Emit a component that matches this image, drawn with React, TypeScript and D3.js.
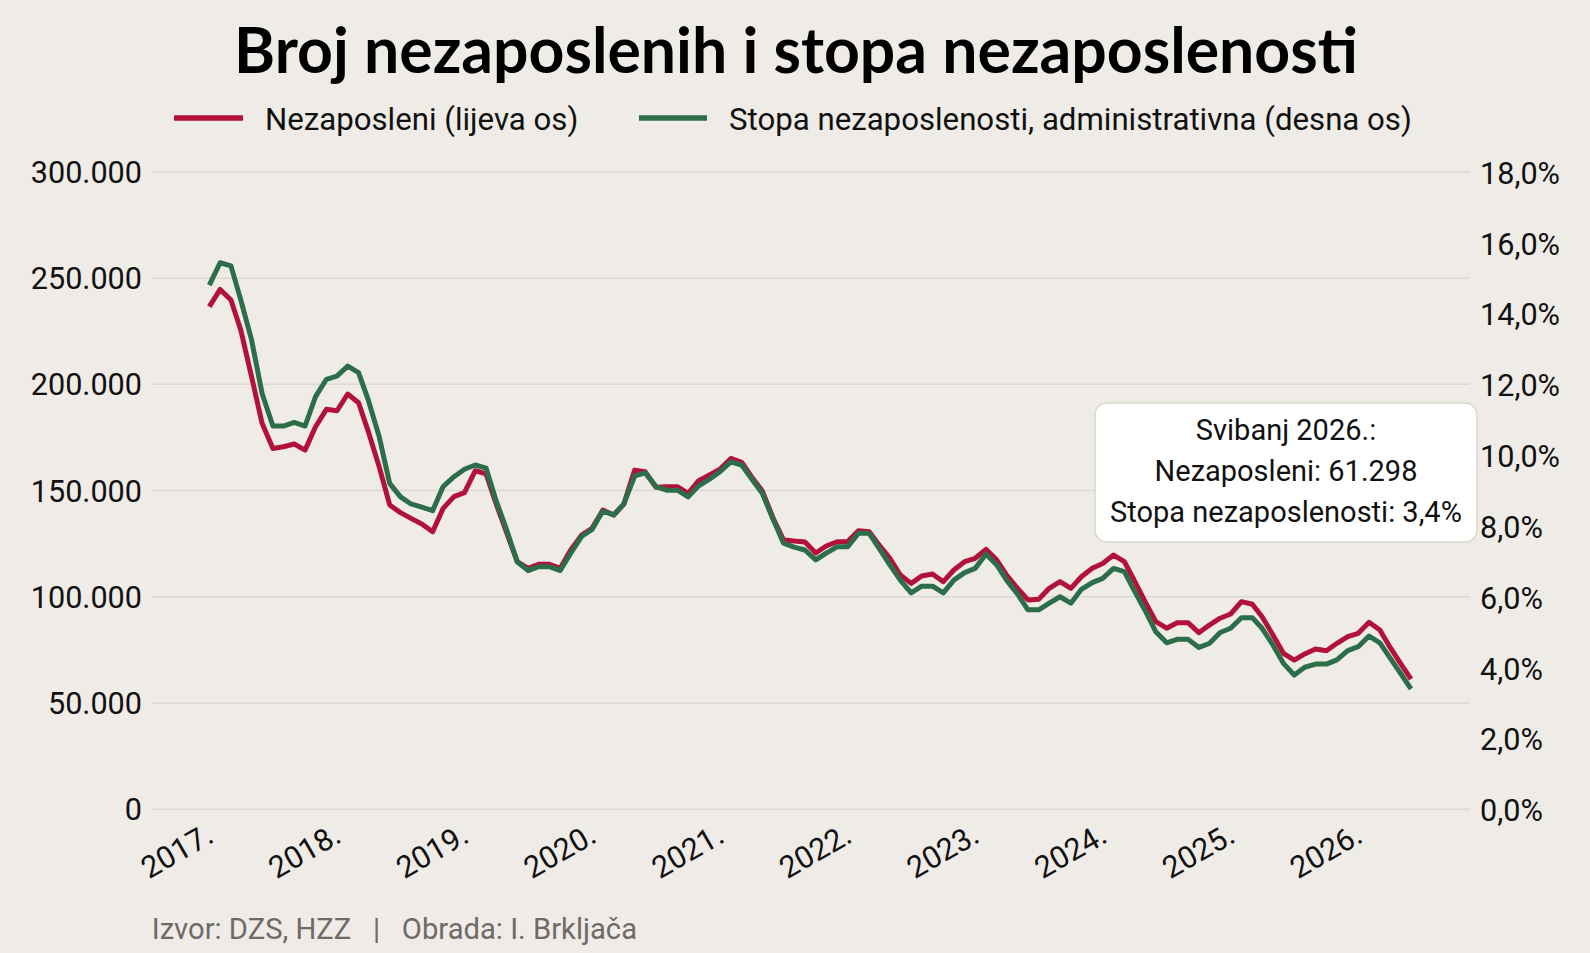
import React, { useEffect } from 'react';
import * as d3 from 'd3';

const W = 1590;
const H = 953;

// Monthly data, December 2016 .. May 2026
const unemployed = [
  236500, 244600, 239600, 225500, 203500, 181600, 169800, 170600, 171900, 169000, 180000, 188200,
  187500, 195400, 191300, 177700, 161200, 143200, 139600, 136900, 134200, 130600, 141600, 147100,
  149000, 159300, 157800, 144000, 130000, 116500, 113400, 115300, 115300, 113400, 122000, 129000,
  132200, 140800, 138500, 143600, 159600, 158800, 151500, 151800, 151800, 148700, 154600, 157300,
  160000, 165100, 163300, 156500, 149800, 137400, 126700, 126200, 125800, 120600, 123900, 125900,
  125900, 131100, 130600, 124400, 118100, 110200, 106300, 109800, 110700, 107100, 112600, 116500,
  118100, 122300, 117300, 110200, 104000, 98500, 98800, 104000, 107100, 104000, 109400, 113400,
  115700, 119600, 116500, 107500, 97500, 88300, 85200, 87800, 87800, 83100, 86700, 89900,
  91900, 97700, 96500, 90600, 82000, 73400, 70200, 73100, 75400, 74600, 78100, 81200,
  82800, 88000, 84400, 76500, 68700, 61298,
];

const rate = [
  14.8, 15.43, 15.34, 14.38, 13.25, 11.74, 10.82, 10.82, 10.92, 10.82, 11.65, 12.14,
  12.23, 12.51, 12.33, 11.55, 10.52, 9.2, 8.82, 8.62, 8.53, 8.43, 9.11, 9.39,
  9.6, 9.72, 9.63, 8.73, 7.88, 6.99, 6.74, 6.85, 6.85, 6.74, 7.23, 7.7,
  7.9, 8.42, 8.31, 8.62, 9.41, 9.5, 9.11, 9.01, 9.01, 8.82, 9.13, 9.32,
  9.53, 9.81, 9.72, 9.34, 8.92, 8.21, 7.51, 7.4, 7.32, 7.04, 7.23, 7.41,
  7.41, 7.79, 7.79, 7.37, 6.9, 6.47, 6.11, 6.3, 6.3, 6.11, 6.47, 6.68,
  6.8, 7.21, 6.9, 6.47, 6.08, 5.63, 5.63, 5.82, 6.0, 5.82, 6.21, 6.4,
  6.52, 6.8, 6.71, 6.16, 5.6, 5.01, 4.7, 4.8, 4.8, 4.57, 4.68, 4.99,
  5.11, 5.41, 5.41, 5.11, 4.64, 4.12, 3.79, 4.01, 4.1, 4.1, 4.22, 4.48,
  4.59, 4.89, 4.7, 4.29, 3.84, 3.4,
];

const startYear = 2016;
const startMonth = 11; // December (0-based)

const leftTicks = [0, 50000, 100000, 150000, 200000, 250000, 300000];
const rightTicks = [0, 2, 4, 6, 8, 10, 12, 14, 16, 18];
const yearTicks = [2017, 2018, 2019, 2020, 2021, 2022, 2023, 2024, 2025, 2026];
const monthNames = [
  'Siječanj', 'Veljača', 'Ožujak', 'Travanj', 'Svibanj', 'Lipanj',
  'Srpanj', 'Kolovoz', 'Rujan', 'Listopad', 'Studeni', 'Prosinac',
];
const seriesNames = ['Nezaposleni (lijeva os)', 'Stopa nezaposlenosti, administrativna (desna os)'];
const seriesColors = ['#B2123A', '#2C6E4A'];
const titleText = 'Broj nezaposlenih i stopa nezaposlenosti';
const sourceText = 'Izvor: DZS, HZZ   |   Obrada: I. Brkljača';

const BG = '#EFECE7';
const GRID = '#DCD8D3';
const FONT = 'Roboto, "Noto Sans", sans-serif';

const locale = d3.formatLocale({ decimal: ',', thousands: '.', grouping: [3], currency: ['', ''] });
const fmtInt = locale.format(',');
const fmtPct = locale.format(',.1f');

export default function App() {
  useEffect(() => {
    document.body.style.margin = '0';
    document.body.style.overflow = 'hidden';
    document.body.style.background = BG;
  }, []);

  const dates = unemployed.map((_, i) => new Date(Date.UTC(startYear, startMonth + i, 1)));

  const plotLeft = 152;
  const plotRight = 1470;
  const plotTop = 171.7;
  const plotBottom = 809.3;

  const x = d3
    .scaleUtc()
    .domain([dates[0], dates[dates.length - 1]])
    .range([209.3, 1411]);
  const yL = d3.scaleLinear().domain([0, 300000]).range([plotBottom, plotTop]);
  const yR = d3.scaleLinear().domain([0, 18]).range([plotBottom, plotTop]);

  const lineL = d3
    .line<number>()
    .x((_, i) => x(dates[i]))
    .y((d) => yL(d));
  const lineR = d3
    .line<number>()
    .x((_, i) => x(dates[i]))
    .y((d) => yR(d));

  const last = dates.length - 1;
  const lastDate = dates[last];
  const tipLines = [
    `${monthNames[lastDate.getUTCMonth()]} ${lastDate.getUTCFullYear()}.:`,
    `Nezaposleni: ${fmtInt(unemployed[last])}`,
    `Stopa nezaposlenosti: ${fmtPct(rate[last])}%`,
  ];

  const tip = { x: 1095, y: 403, w: 382, h: 139 };

  return (
    <div style={{ position: 'fixed', left: 0, top: 0, width: W, height: H }}>
      <svg width={W} height={H} style={{ display: 'block' }}>
        <rect x={0} y={0} width={W} height={H} fill={BG} />

        <text
          x={796}
          y={73}
          textAnchor="middle"
          fontFamily='Lato, "DejaVu Sans", sans-serif'
          fontWeight={700}
          fontSize={62.5}
          fill="#000"
        >
          {titleText}
        </text>

        {/* legend */}
        <g fontFamily={FONT} fontSize={31.2} fill="#111">
          <line x1={174} x2={243} y1={118} y2={118} stroke={seriesColors[0]} strokeWidth={5.5} />
          <text x={265} y={129.8}>{seriesNames[0]}</text>
          <line x1={639} x2={707} y1={118} y2={118} stroke={seriesColors[1]} strokeWidth={5.5} />
          <text x={729} y={129.8}>{seriesNames[1]}</text>
        </g>

        {/* gridlines */}
        {leftTicks.map((t) => (
          <line
            key={'g' + t}
            x1={plotLeft}
            x2={plotRight}
            y1={yL(t)}
            y2={yL(t)}
            stroke={GRID}
            strokeWidth={1.6}
          />
        ))}

        {/* left axis labels */}
        <g fontFamily={FONT} fontSize={30.6} fill="#111" textAnchor="end">
          {leftTicks.map((t) => (
            <text key={'l' + t} x={142} y={yL(t) + 11}>
              {fmtInt(t)}
            </text>
          ))}
        </g>

        {/* right axis labels */}
        <g fontFamily={FONT} fontSize={30.6} fill="#111" textAnchor="start">
          {rightTicks.map((t) => (
            <text key={'r' + t} x={1480} y={yR(t) + 12}>
              {fmtPct(t)}%
            </text>
          ))}
        </g>

        {/* x axis labels */}
        <g fontFamily={FONT} fontSize={30.6} fill="#111" textAnchor="end">
          {yearTicks.map((yr) => {
            const tx = x(new Date(Date.UTC(yr, 0, 1))) - 4.6;
            const ty = 841;
            return (
              <text key={'x' + yr} x={tx} y={ty} transform={`rotate(-30 ${tx} ${ty})`}>
                {yr}.
              </text>
            );
          })}
        </g>

        {/* series */}
        <path d={lineL(unemployed) || ''} fill="none" stroke={seriesColors[0]} strokeWidth={5} strokeLinejoin="round" />
        <path d={lineR(rate) || ''} fill="none" stroke={seriesColors[1]} strokeWidth={5} strokeLinejoin="round" />

        {/* tooltip */}
        <rect
          x={tip.x}
          y={tip.y}
          width={tip.w}
          height={tip.h}
          rx={12}
          ry={12}
          fill="#fff"
          stroke="#DAD6D1"
          strokeWidth={1.5}
        />
        <g fontFamily={FONT} fontSize={29} fill="#111" textAnchor="middle">
          {tipLines.map((s, i) => (
            <text key={'t' + i} x={tip.x + tip.w / 2} y={440 + i * 41}>
              {s}
            </text>
          ))}
        </g>

        {/* source */}
        <text
          x={151.7}
          y={939}
          fontFamily={FONT}
          fontSize={29.2}
          fill="#6F6A65"
          style={{ whiteSpace: 'pre' }}
        >
          {sourceText}
        </text>
      </svg>
    </div>
  );
}
